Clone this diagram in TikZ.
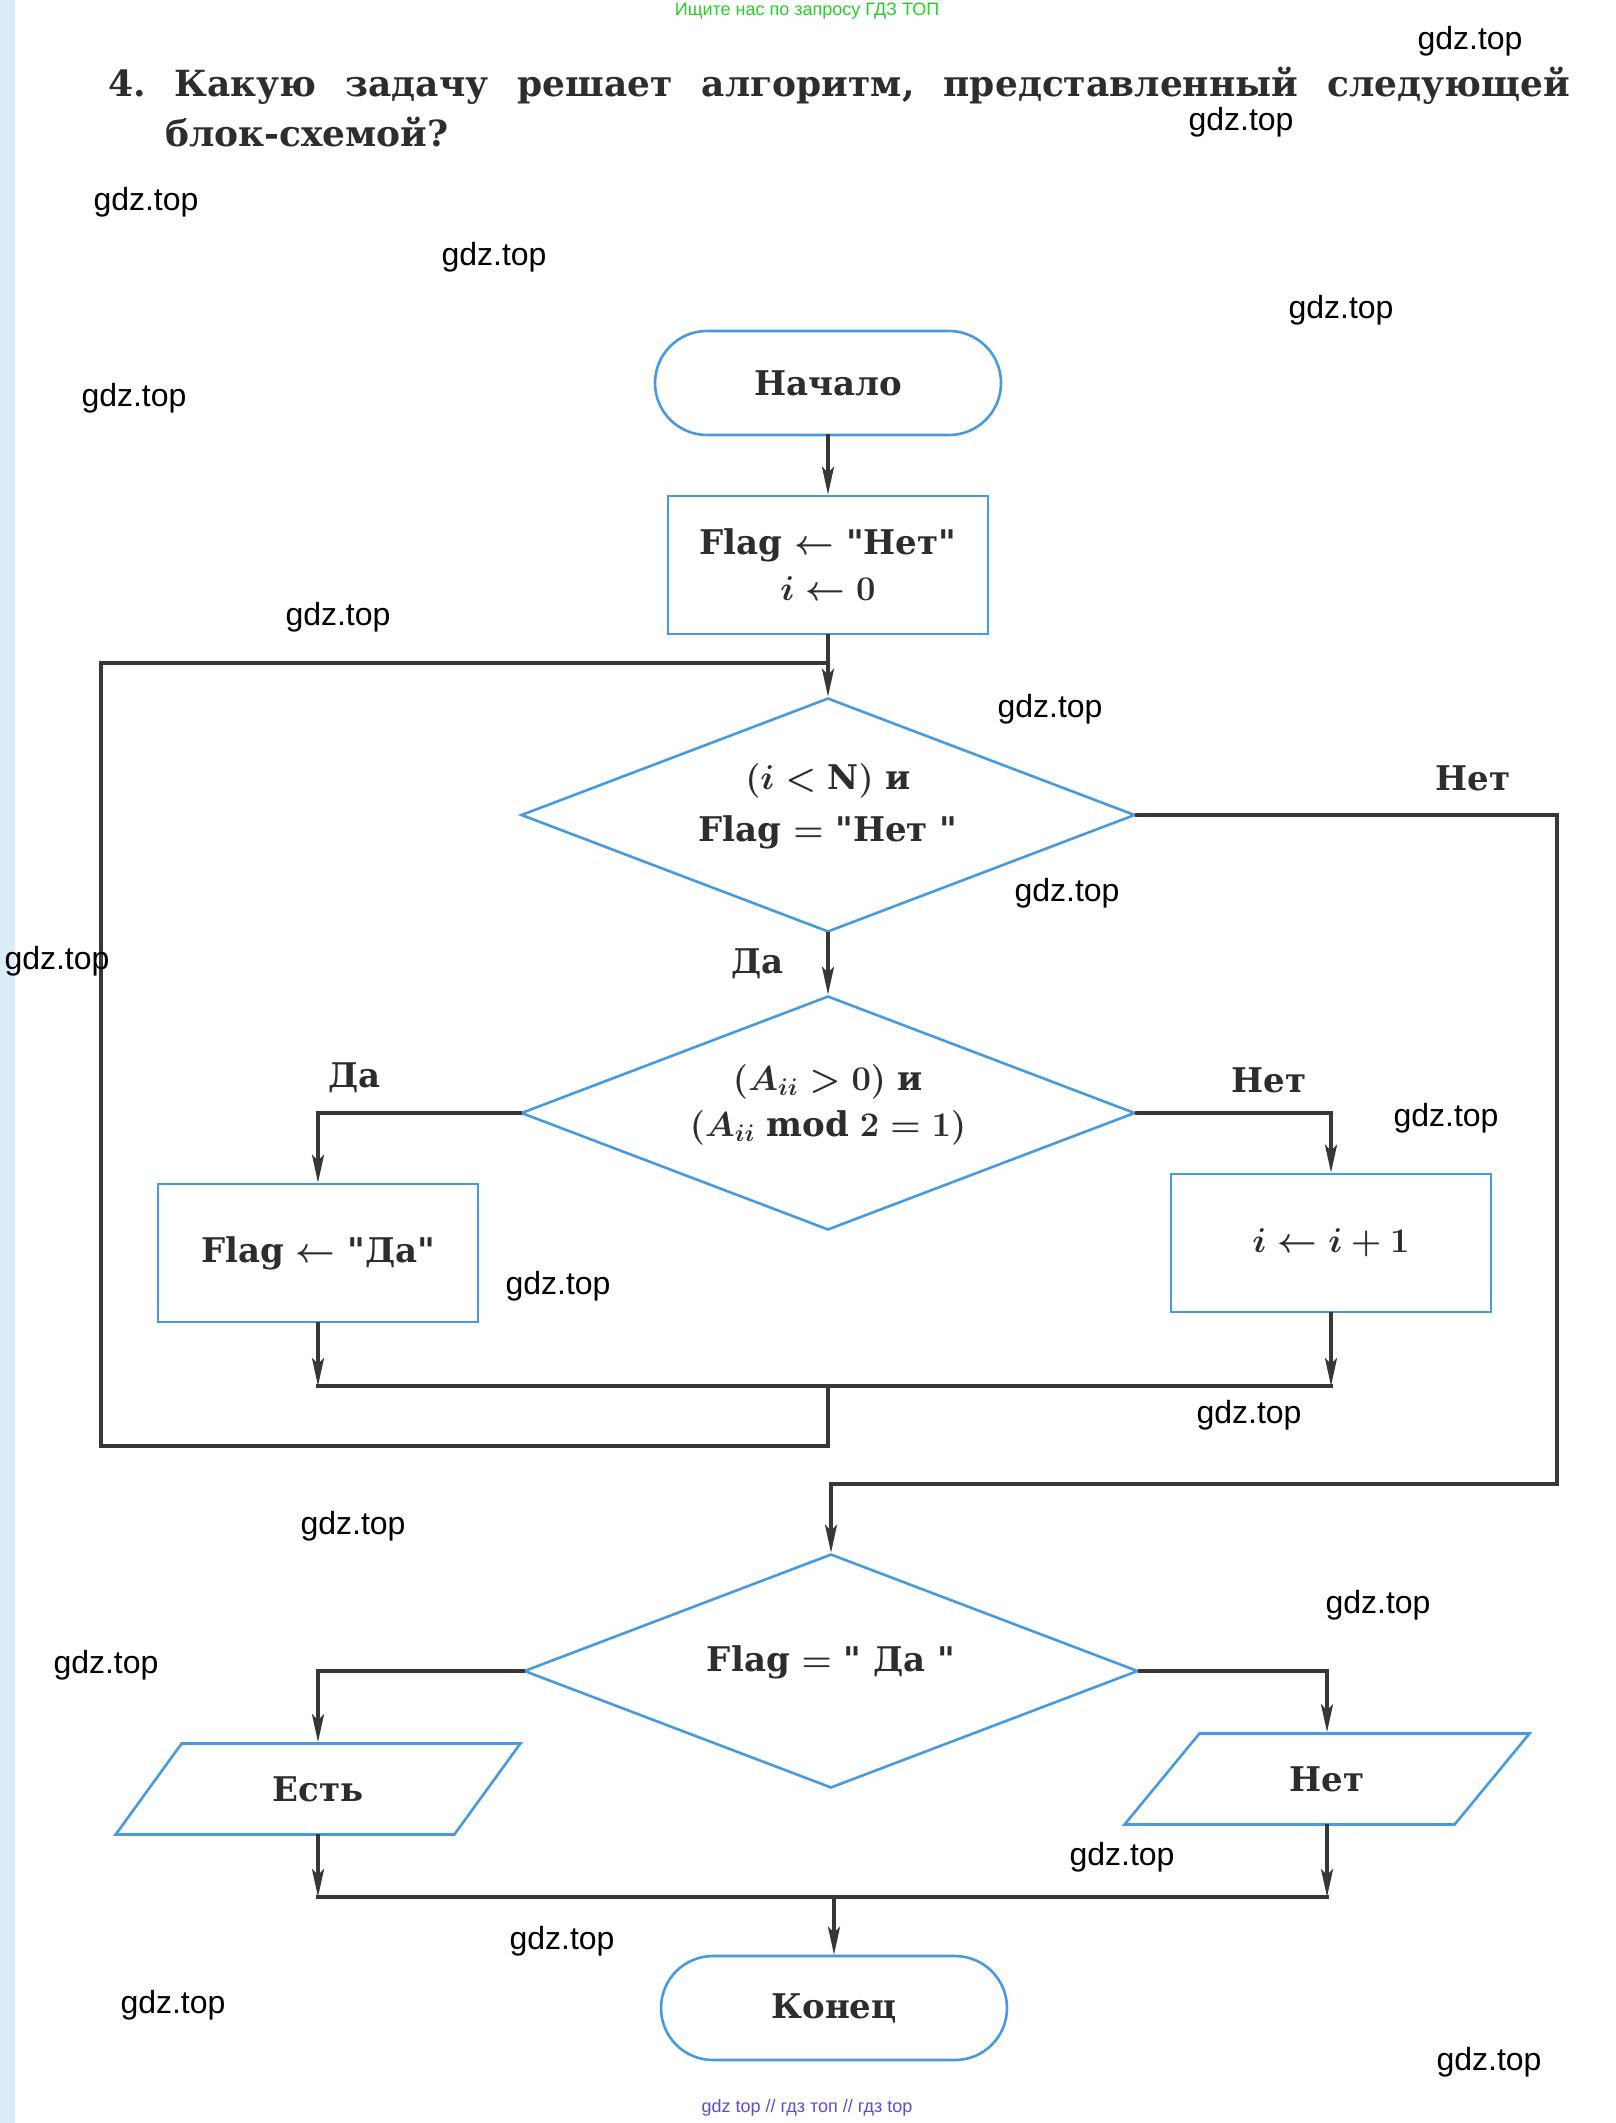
\documentclass[tikz,border=0pt]{standalone}
\usepackage{fontspec}
\setmainfont{DejaVu Serif}[Ligatures=TeXOff]
\newfontfamily\wmfont{Liberation Sans}
\usetikzlibrary{arrows.meta,shapes.geometric}
\frenchspacing

\definecolor{shapeblue}{RGB}{72,154,222}
\definecolor{linegray}{RGB}{55,55,55}
\definecolor{inkgray}{RGB}{45,45,45}
\definecolor{adgreen}{RGB}{40,205,40}
\definecolor{adviolet}{RGB}{95,75,205}
\definecolor{stripblue}{RGB}{218,236,246}

% text of a decision block, kept out of the diamond's size
\newcommand{\dtext}[1]{\smash{\makebox[0pt]{\begin{tabular}{@{}c@{}}#1\end{tabular}}}}

\tikzset{
  every node/.style={text=inkgray},
  blk/.style={draw=shapeblue, line width=1.3pt, inner sep=0pt,
    font=\bfseries\boldmath\fontsize{17}{23}\selectfont, align=center},
  term/.style={blk, rounded corners=26pt, minimum width=173pt, minimum height=52pt},
  proc/.style={blk, minimum width=160pt, minimum height=69pt},
  decide/.style={blk, diamond, minimum width=307pt, minimum height=117pt},
  io/.style={blk, trapezium, trapezium left angle=49, trapezium right angle=131,
    trapezium stretches=true, minimum width=203pt, minimum height=45.5pt},
  conn/.style={draw=linegray, line width=1.8pt, line cap=rect},
  arr/.style={conn, -{Stealth[length=14pt,width=6pt,inset=3pt]}},
  lbl/.style={font=\bfseries\fontsize{17}{20}\selectfont},
  wm/.style={font=\wmfont\fontsize{16}{18}\selectfont, text=black},
  ad/.style={font=\wmfont\fontsize{9}{10}\selectfont},
}

\begin{document}
\begin{tikzpicture}[x=0.5pt,y=-0.5pt]
\useasboundingbox (0,0) rectangle (1615,2123);
\fill[stripblue] (0,0) rectangle (15,2123);

% header and question
\node[ad, text=adgreen] (hdr) at (807,11) {Ищите нас по запросу ГДЗ ТОП};
\node[anchor=base west, font=\bfseries\fontsize{18}{24}\selectfont] (q1) at (101,97)
  {\makebox[731pt][s]{4. Какую задачу решает алгоритм, представленный следующей}};
\node[anchor=base west, font=\bfseries\fontsize{18}{24}\selectfont] (q2) at (158,147) {блок-схемой?};

% blocks
\node[term] (start) at (828,383) {Начало};
\node[proc] (init) at (828,565) {Flag $\leftarrow$ "Нет"\\ $i \leftarrow 0$};
\node[decide] (c1) at (828,815) {\dtext{$(i<\mathrm{N})$ и\\[3pt] Flag $=$ "Нет "}};
\node[decide] (c2) at (828,1113) {\dtext{$(A_{ii}>0)$ и\\ $(A_{ii} \bmod 2=1)$}};
\node[proc] (yes) at (318,1253) {Flag $\leftarrow$ "Да"};
\node[proc] (inc) at (1331,1243) {$i \leftarrow i+1$};
\node[decide] (c3) at (831,1671) {\dtext{Flag $=$ " Да "}};
\node[io] (out1) at (318,1789) {Есть};
\node[io] (out2) at (1327,1779) {Нет};
\node[term] (stop) at (834,2008) {Конец};

% connectors
\coordinate (jn) at (828,1386);
\coordinate (lb) at (101,1446);
\coordinate (lt) at (101,663);
\coordinate (rt) at (1557,1484);
\coordinate (jn3) at (834,1897);

\draw[arr] (start.south) -- (init.north);
\draw[arr] (init.south) -- (c1.north);
\draw[arr] (c1.south) -- node[lbl, left=18pt] (da1) {Да} (c2.north);
\draw[arr] (c1.east) -| node[lbl, pos=0.4, above=8pt] (net1) {Нет} (rt) -| (c3.north);
\draw[arr] (c2.west) -| node[lbl, pos=0.41, above=6pt] (da2) {Да} (yes.north);
\draw[arr] (c2.east) -| node[lbl, pos=0.34, above=6pt] (net2) {Нет} (inc.north);
\draw[arr] (yes.south) -- (yes.south |- jn);
\draw[arr] (inc.south) -- (inc.south |- jn);
\draw[conn] (yes.south |- jn) -- (inc.south |- jn);
\draw[conn] (jn) |- (lb) -- (lt) -- (init.south |- lt);

\draw[arr] (c3.west) -| (out1.north);
\draw[arr] (c3.east) -| (out2.north);
\draw[arr] (out1.south) -- (out1.south |- jn3);
\draw[arr] (out2.south) -- (out2.south |- jn3);
\draw[conn] (out1.south |- jn3) -- (out2.south |- jn3);
\draw[arr] (jn3) -- (stop.north);

% watermarks
\foreach \wx/\wy [count=\k] in {1470/41, 1241/122, 146/202, 494/257, 1341/310,
    134/398, 338/617, 1050/709, 1067/893, 57/961, 1446/1118, 558/1286,
    1249/1415, 353/1526, 1378/1605, 106/1665, 1122/1857, 562/1941,
    173/2005, 1489/2062}
  \node[wm] (wm\k) at (\wx,\wy) {gdz.top};
\node[ad, text=adviolet] (ftr) at (807,2108) {gdz top // гдз топ // гдз top};
\end{tikzpicture}
\end{document}
